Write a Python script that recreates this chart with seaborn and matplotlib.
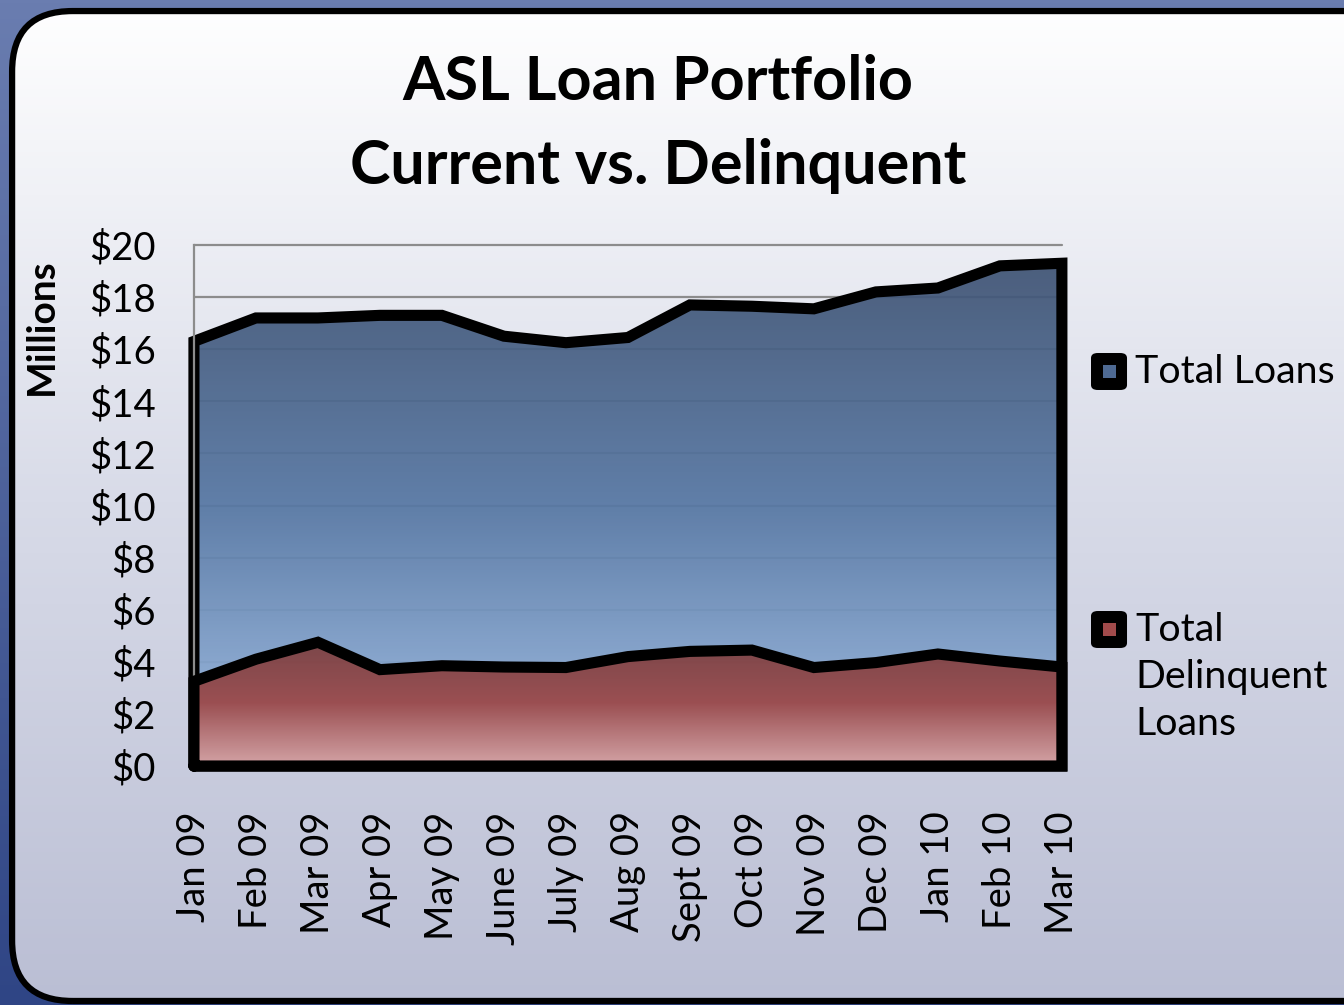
import matplotlib.pyplot as plt
import numpy as np
import pandas as pd
import seaborn as sns
from matplotlib.colors import LinearSegmentedColormap
from matplotlib.patches import FancyBboxPatch

# Data (millions of dollars)
months = ["Jan 09", "Feb 09", "Mar 09", "Apr 09", "May 09", "June 09", "July 09",
          "Aug 09", "Sept 09", "Oct 09", "Nov 09", "Dec 09", "Jan 10", "Feb 10", "Mar 10"]
total_loans = [16.3, 17.2, 17.2, 17.3, 17.3, 16.5, 16.25, 16.45, 17.7, 17.65, 17.55,
               18.2, 18.35, 19.2, 19.3]
delinquent = [3.25, 4.1, 4.75, 3.7, 3.85, 3.8, 3.78, 4.2, 4.4, 4.45, 3.78, 3.97,
              4.3, 4.03, 3.8]
y_ticks = [0, 2, 4, 6, 8, 10, 12, 14, 16, 18, 20]
y_tick_labels = ["$" + str(v) for v in y_ticks]
series_names = ["Total Loans", "Total\nDelinquent\nLoans"]

df = pd.DataFrame({"month": months, "total": total_loans, "delinquent": delinquent})
df["pos"] = np.arange(len(df))

sns.set_style("white")
plt.rcParams["font.family"] = ["Lato", "DejaVu Sans"]
plt.rcParams["text.color"] = "black"
plt.rcParams["axes.labelcolor"] = "black"

fig = plt.figure(figsize=(13.44, 10.05), dpi=100)

# Background: blue outer area, rounded light panel with gradient
bg = fig.add_axes([0, 0, 1, 1], zorder=-10)
bg.axis("off")
outer_cmap = LinearSegmentedColormap.from_list("outer", ["#2f4585", "#6a7db0"])
bg.imshow(np.linspace(0, 1, 256).reshape(-1, 1), extent=[0, 1, 0, 1], origin="lower",
          aspect="auto", cmap=outer_cmap)
panel = FancyBboxPatch((0.009, 0.004), 1.1, 0.985, boxstyle="round,pad=0,rounding_size=0.045",
                       mutation_aspect=1.337, facecolor="none", edgecolor="black", linewidth=4.5,
                       transform=bg.transAxes, zorder=3)
bg.add_patch(panel)
inner_cmap = LinearSegmentedColormap.from_list("inner", ["#babed4", "#d8dbe8", "#ffffff"])
inner = bg.imshow(np.linspace(0, 1, 256).reshape(-1, 1), extent=[0, 1, 0, 1], origin="lower",
                  aspect="auto", cmap=inner_cmap, zorder=2)
inner.set_clip_path(panel)
bg.set_xlim(0, 1)
bg.set_ylim(0, 1)

ax = fig.add_axes([0.1443, 0.2378, 0.6458, 0.5184])
ax.patch.set_alpha(0)

blue_cmap = LinearSegmentedColormap.from_list("blue", ["#a0bfe6", "#5879a5", "#3f5373"])
red_cmap = LinearSegmentedColormap.from_list("red", ["#d8a2a2", "#9c4848", "#7a4040"])


def gradient_area(values, cmap, ytop, z):
    poly = ax.fill_between(df["pos"], 0, values, facecolor="none", edgecolor="none")
    img = ax.imshow(np.linspace(0, 1, 256).reshape(-1, 1),
                    extent=[0, len(months) - 1, 0, ytop], origin="lower",
                    aspect="auto", cmap=cmap, alpha=0.93, zorder=z)
    img.set_clip_path(poly.get_paths()[0], ax.transData)
    # outline of the area, closed down to the axis
    px = [df["pos"].iloc[0]] + list(df["pos"]) + [df["pos"].iloc[-1], df["pos"].iloc[0]]
    py = [0] + list(values) + [0, 0]
    sns.lineplot(x=px, y=py, sort=False, estimator=None, color="black",
                 linewidth=8, ax=ax, zorder=z + 0.5)
    ln = ax.lines[-1]
    ln.set_clip_on(False)
    ln.set_solid_joinstyle("miter")


gradient_area(df["total"], blue_cmap, 19.5, 2)
gradient_area(df["delinquent"], red_cmap, 4.8, 4)

ax.set_xlim(0, len(months) - 1)
ax.set_ylim(0, 20)

# grid and axes
for v in y_ticks:
    ax.axhline(v, color="#8c8c8c", linewidth=1.6, zorder=1, clip_on=False)
ax.set_yticks(y_ticks)
ax.set_yticklabels(y_tick_labels, fontsize=27.5)
ax.set_xticks(df["pos"])
ax.set_xticklabels(months, rotation=90, fontsize=27.5)
ax.tick_params(axis="both", direction="out", length=8.6, width=1.5, color="#8c8c8c",
               labelcolor="black")
ax.tick_params(axis="y", pad=19)
ax.tick_params(axis="x", pad=24)
for s in ["top", "right"]:
    ax.spines[s].set_visible(False)
for s in ["left", "bottom"]:
    ax.spines[s].set_color("#8c8c8c")
    ax.spines[s].set_linewidth(1.6)
ax.set_xlabel("")
ax.set_ylabel("")
fig.text(41 / 1344, 1 - 327 / 1005, "Millions", rotation=90, fontsize=28,
         fontweight="bold", ha="center", va="center")

# title
fig.text(0.4896, 1 - 100 / 1005, "ASL Loan Portfolio", fontsize=44, fontweight="bold",
         ha="center", va="baseline")
fig.text(0.4896, 1 - 184 / 1005, "Current vs. Delinquent", fontsize=44, fontweight="bold",
         ha="center", va="baseline")

# legend
legend_y = [1 - 371.5 / 1005, 1 - 629.5 / 1005]
legend_fill = ["#4e6a93", "#a24b4b"]
for name, yy, col in zip(series_names, legend_y, legend_fill):
    fig.patches.append(FancyBboxPatch((1091 / 1344, yy - 0.0184), 0.0268, 0.0368,
                                      boxstyle="round,pad=0,rounding_size=0.005",
                                      facecolor="black", edgecolor="none",
                                      transform=fig.transFigure, figure=fig))
    fig.patches.append(FancyBboxPatch((1102.5 / 1344, yy - 0.00645), 0.0097, 0.0129,
                                      boxstyle="square,pad=0", facecolor=col,
                                      edgecolor="none", transform=fig.transFigure, figure=fig))
    fig.text(1135 / 1344, yy + 0.017, name, fontsize=28.4, va="top", ha="left",
             linespacing=1.37)

fig.savefig("out.png", dpi=100)
